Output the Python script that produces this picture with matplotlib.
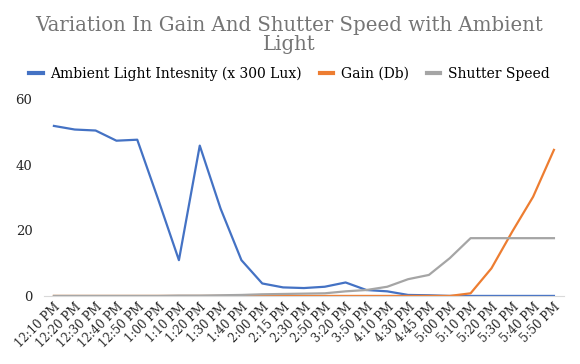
import matplotlib
matplotlib.use("Agg")
import matplotlib.pyplot as plt
from matplotlib.lines import Line2D

times = ["12:10 PM", "12:20 PM", "12:30 PM", "12:40 PM", "12:50 PM", "1:00 PM", "1:10 PM",
         "1:20 PM", "1:30 PM", "1:40 PM", "2:00 PM", "2:15 PM", "2:30 PM", "2:50 PM",
         "3:20 PM", "3:50 PM", "4:10 PM", "4:30 PM", "4:45 PM", "5:00 PM", "5:10 PM",
         "5:20 PM", "5:30 PM", "5:40 PM", "5:50 PM"]
ambient = [51.8, 50.7, 50.4, 47.3, 47.6, 29.5, 10.9, 45.8, 26.6, 10.9, 3.8, 2.6, 2.4, 2.8,
           4.1, 1.8, 1.4, 0.3, 0.2, 0.0, 0.0, 0.0, 0.0, 0.0, 0.0]
gain = [0, 0, 0, 0, 0, 0, 0, 0, 0, 0, 0, 0, 0, 0, 0, 0, 0, 0, 0, 0, 0.8, 8.4, 19.6, 30.2, 44.5]
shutter = [0, 0, 0, 0, 0, 0, 0.1, 0.1, 0.2, 0.3, 0.5, 0.6, 0.7, 0.8, 1.4, 1.8, 2.8, 5.1, 6.4,
           11.5, 17.6, 17.6, 17.6, 17.6, 17.6]
yticks = [0, 20, 40, 60]
names = ["Ambient Light Intesnity (x 300 Lux)", "Gain (Db)", "Shutter Speed"]
colors = ["#4472C4", "#ED7D31", "#A5A5A5"]

plt.rcParams['font.family'] = ['DejaVu Serif']
fig = plt.figure(figsize=(5.8, 3.64), dpi=100)
ax = fig.add_axes([0.075, 0.187, 0.898, 0.541])
x = list(range(len(times)))
for vals, c, n in zip([ambient, gain, shutter], colors, names):
    ax.plot(x, vals, color=c, lw=1.6, label=n)
ax.set_xlim(-0.5, len(times) - 0.5)
ax.set_ylim(0, 60)
ax.set_yticks(yticks)
ax.set_xticks(x)
ax.set_xticklabels(times, rotation=45, ha="right", rotation_mode="anchor", fontsize=8.5)
ax.tick_params(axis="y", labelsize=9.5, length=0, pad=8)
ax.tick_params(axis="x", length=0, pad=3)
for s in ["top", "right", "left"]:
    ax.spines[s].set_visible(False)
ax.spines["bottom"].set_color("#D9D9D9")
for t in ax.get_xticklabels() + ax.get_yticklabels():
    t.set_color("#262626")

fig.text(0.498, 0.904, "Variation In Gain And Shutter Speed with Ambient\nLight", ha="center",
         va="center", fontsize=14.2, color="#757575", linespacing=1.0)
handles = [Line2D([], [], color=c, lw=3) for c in colors]
fig.legend(handles, names, loc="center", bbox_to_anchor=(0.499, 0.797), ncol=3, frameon=False,
           fontsize=10, handlelength=0.95, handletextpad=0.55, columnspacing=1.3)
fig.savefig("out.png", dpi=100)
